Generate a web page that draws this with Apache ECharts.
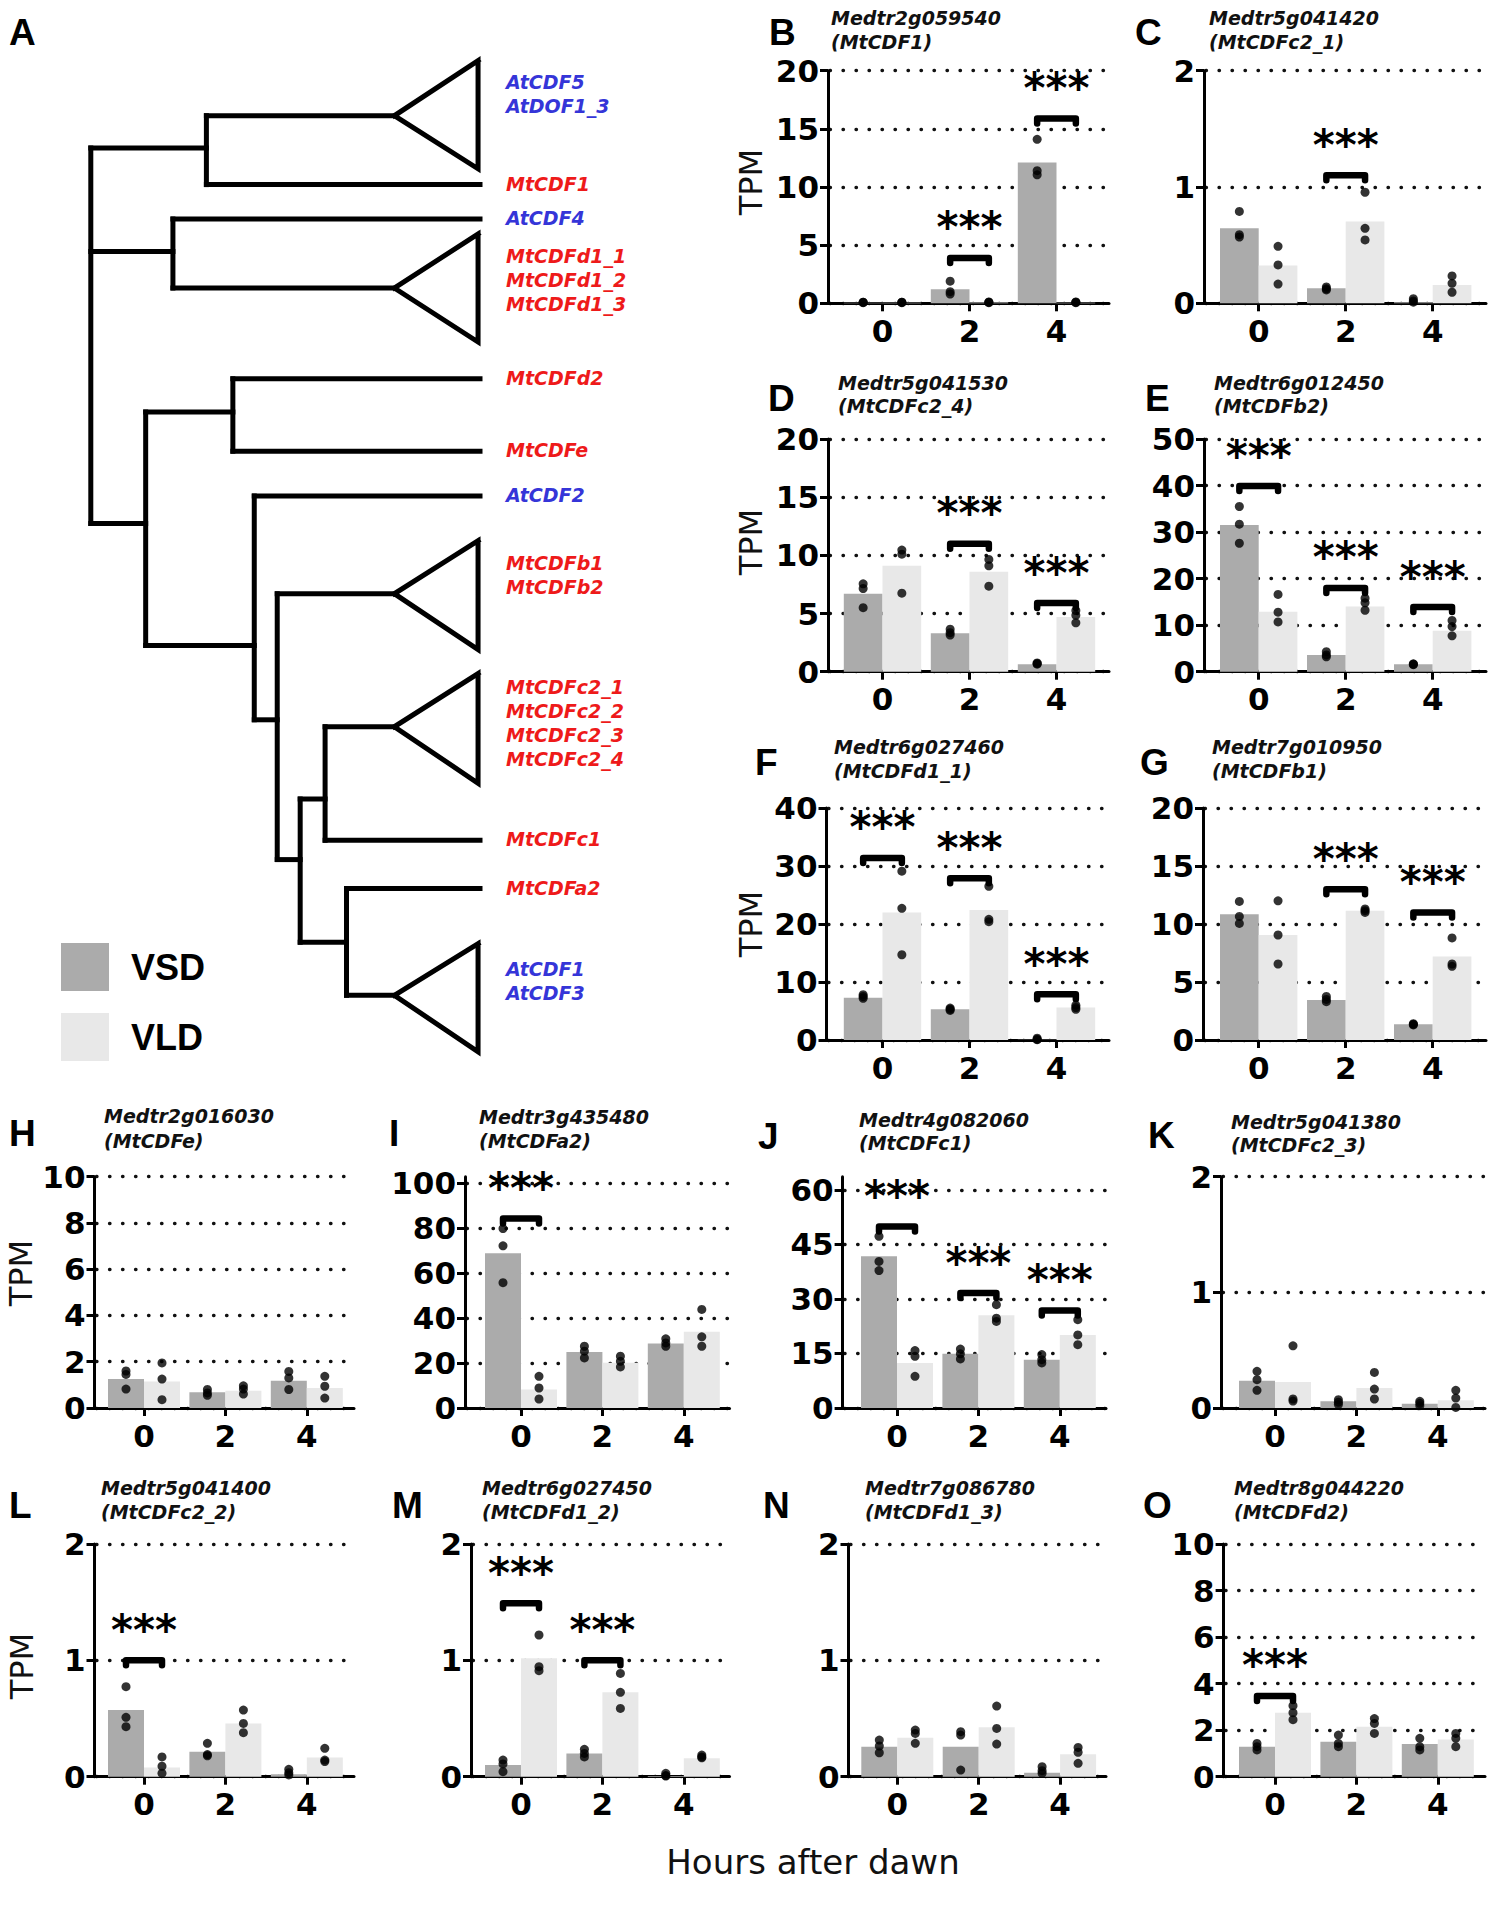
<!DOCTYPE html>
<html><head><meta charset="utf-8">
<script src="https://cdn.jsdelivr.net/npm/echarts@6/dist/echarts.min.js"></script>
<style>html,body{margin:0;padding:0;background:#fff}#c{width:1506px;height:1915px}</style>
</head><body><div id="c"></div>
<script>
// ---------------- DATA ----------------
const hours = [0, 2, 4];
const seriesNames = ['VSD', 'VLD'];

// B  Medtr2g059540 (MtCDF1)
const B_TICKS = [0, 5, 10, 15, 20];
const B_VSD = [0.04, 1.2, 12.1];
const B_VLD = [0.05, 0.06, 0.05];
const B_VSD_PTS = [[0.1, 0.08, 0.05], [1.9, 1.0, 0.8], [14.1, 11.4, 11.05]];
const B_VLD_PTS = [[0.1, 0.08, 0.05], [0.12, 0.08, 0.05], [0.12, 0.08, 0.05]];
const B_SIG = [[2, 3.9], [4, 15.9]];
// C  Medtr5g041420 (MtCDFc2_1)
const C_TICKS = [0, 1, 2];
const C_VSD = [0.646, 0.13, 0.01];
const C_VLD = [0.324, 0.703, 0.158];
const C_VSD_PTS = [[0.79, 0.59, 0.57], [0.14, 0.125, 0.115], [0.04, 0.02, 0.01]];
const C_VLD_PTS = [[0.49, 0.33, 0.165], [0.955, 0.645, 0.545], [0.235, 0.172, 0.095]];
const C_SIG = [[2, 1.1]];
// D  Medtr5g041530 (MtCDFc2_4)
const D_TICKS = [0, 5, 10, 15, 20];
const D_VSD = [6.7, 3.3, 0.63];
const D_VLD = [9.1, 8.6, 4.7];
const D_VSD_PTS = [[7.55, 7.15, 5.5], [3.65, 3.35, 3.15], [0.75, 0.7, 0.65]];
const D_VLD_PTS = [[10.45, 10.1, 6.75], [9.65, 9.1, 7.35], [5.25, 4.85, 4.2]];
const D_SIG = [[2, 11.0], [4, 5.9]];
// E  Medtr6g012450 (MtCDFb2)
const E_TICKS = [0, 10, 20, 30, 40, 50];
const E_VSD = [31.5, 3.6, 1.6];
const E_VLD = [12.9, 14.0, 8.8];
const E_VSD_PTS = [[35.5, 31.7, 27.6], [4.3, 3.6, 3.2], [1.7, 1.6, 1.5]];
const E_VLD_PTS = [[16.6, 12.8, 10.7], [15.8, 14.8, 13.2], [11.0, 9.7, 7.7]];
const E_SIG = [[0, 39.9], [2, 18.0], [4, 13.9]];
// F  Medtr6g027460 (MtCDFd1_1)
const F_TICKS = [0, 10, 20, 30, 40];
const F_VSD = [7.3, 5.3, 0.05];
const F_VLD = [22.0, 22.4, 5.6];
const F_VSD_PTS = [[7.8, 7.5, 7.2], [5.5, 5.3, 5.1], [0.3, 0.1, 0.05]];
const F_VLD_PTS = [[29.1, 22.7, 14.7], [26.5, 20.8, 20.4], [6.0, 5.6, 5.3]];
const F_SIG = [[0, 31.4], [2, 27.9], [4, 7.9]];
// G  Medtr7g010950 (MtCDFb1)
const G_TICKS = [0, 5, 10, 15, 20];
const G_VSD = [10.85, 3.45, 1.35];
const G_VLD = [9.05, 11.15, 7.2];
const G_VSD_PTS = [[11.95, 10.65, 10.05], [3.75, 3.5, 3.3], [1.4, 1.35, 1.3]];
const G_VLD_PTS = [[12.0, 9.05, 6.55], [11.3, 11.15, 11.0], [8.8, 6.55, 6.35]];
const G_SIG = [[2, 13.0], [4, 11.0]];
// H  Medtr2g016030 (MtCDFe)
const H_TICKS = [0, 2, 4, 6, 8, 10];
const H_VSD = [1.25, 0.68, 1.18];
const H_VLD = [1.15, 0.75, 0.86];
const H_VSD_PTS = [[1.6, 1.45, 0.82], [0.8, 0.65, 0.55], [1.58, 1.3, 0.8]];
const H_VLD_PTS = [[1.95, 1.25, 0.36], [0.96, 0.82, 0.6], [1.37, 0.94, 0.43]];
const H_SIG = [];
// I  Medtr3g435480 (MtCDFa2)
const I_TICKS = [0, 20, 40, 60, 80, 100];
const I_VSD = [68.9, 24.9, 28.7];
const I_VLD = [8.2, 20.1, 33.9];
const I_VSD_PTS = [[79.9, 72.2, 55.8], [27.5, 25.3, 22.3], [30.8, 29.0, 27.5]];
const I_VLD_PTS = [[14.1, 8.9, 4.0], [23.1, 20.8, 18.3], [43.9, 31.7, 27.5]];
const I_SIG = [[0, 84.4]];
// J  Medtr4g082060 (MtCDFc1)
const J_TICKS = [0, 15, 30, 45, 60];
const J_VSD = [41.7, 14.9, 13.3];
const J_VLD = [12.4, 25.5, 20.1];
const J_VSD_PTS = [[47.2, 40.3, 37.8], [16.2, 14.9, 13.5], [14.7, 13.3, 12.4]];
const J_VLD_PTS = [[15.8, 14.2, 8.7], [28.4, 24.7, 23.8], [24.3, 20.1, 17.4]];
const J_SIG = [[0, 49.9], [2, 31.6], [4, 26.8]];
// K  Medtr5g041380 (MtCDFc2_3)
const K_TICKS = [0, 1, 2];
const K_VSD = [0.236, 0.058, 0.037];
const K_VLD = [0.224, 0.173, 0.066];
const K_VSD_PTS = [[0.317, 0.245, 0.153], [0.072, 0.05, 0.03], [0.058, 0.04, 0.02]];
const K_VLD_PTS = [[0.538, 0.078, 0.06], [0.308, 0.164, 0.078], [0.153, 0.086, 0.005]];
const K_SIG = [];
// L  Medtr5g041400 (MtCDFc2_2)
const L_TICKS = [0, 1, 2];
const L_VSD = [0.573, 0.215, 0.02];
const L_VLD = [0.08, 0.458, 0.166];
const L_VSD_PTS = [[0.774, 0.51, 0.43], [0.287, 0.19, 0.18], [0.063, 0.035, 0.015]];
const L_VLD_PTS = [[0.17, 0.09, 0.03], [0.573, 0.458, 0.378], [0.244, 0.143, 0.13]];
const L_SIG = [[0, 1.0]];
// M  Medtr6g027450 (MtCDFd1_2)
const M_TICKS = [0, 1, 2];
const M_VSD = [0.1, 0.2, 0.005];
const M_VLD = [1.017, 0.725, 0.158];
const M_VSD_PTS = [[0.143, 0.11, 0.043], [0.235, 0.2, 0.17], [0.029, 0.01, 0.005]];
const M_VLD_PTS = [[1.218, 0.946, 0.911], [0.888, 0.725, 0.587], [0.186, 0.17, 0.163]];
const M_SIG = [[0, 1.49], [2, 1.0]];
// N  Medtr7g086780 (MtCDFd1_3)
const N_TICKS = [0, 1, 2];
const N_VSD = [0.258, 0.258, 0.034];
const N_VLD = [0.335, 0.424, 0.192];
const N_VSD_PTS = [[0.315, 0.264, 0.206], [0.387, 0.358, 0.057], [0.086, 0.052, 0.029]];
const N_VLD_PTS = [[0.401, 0.372, 0.287], [0.607, 0.415, 0.28], [0.252, 0.21, 0.115]];
const N_SIG = [];
// O  Medtr8g044220 (MtCDFd2)
const O_TICKS = [0, 2, 4, 6, 8, 10];
const O_VSD = [1.29, 1.5, 1.4];
const O_VLD = [2.75, 2.15, 1.6];
const O_VSD_PTS = [[1.43, 1.29, 1.15], [1.79, 1.43, 1.29], [1.65, 1.29, 1.15]];
const O_VLD_PTS = [[3.05, 2.75, 2.45], [2.5, 2.29, 1.86], [1.86, 1.65, 1.29]];
const O_SIG = [[0, 3.47]];

// Panel A: cladogram (branch depth 0..1 from root to tips; y in tree layout units)
const apexDepth = 0.78, cladeBaseDepth = 0.995, tipDepth = 1.0;
const tree = {d: 0, children: [
  {d: 0.297, y: 148, children: [
    {clade: ['AtCDF5', 'AtDOF1_3'], y: 115.7, top: 60.6, bottom: 168.8, labelY: 81.5},
    {leaf: 'MtCDF1', y: 184.6}]},
  {d: 0.211, y: 251.4, children: [
    {leaf: 'AtCDF4', y: 219},
    {clade: ['MtCDFd1_1', 'MtCDFd1_2', 'MtCDFd1_3'], y: 288, top: 234, bottom: 342, labelY: 255.5}]},
  {d: 0.141, y: 523.5, children: [
    {d: 0.365, y: 411.9, children: [{leaf: 'MtCDFd2', y: 378.8}, {leaf: 'MtCDFe', y: 451.2}]},
    {d: 0.420, y: 645.4, children: [
      {leaf: 'AtCDF2', y: 495.9},
      {d: 0.479, y: 719.8, children: [
        {clade: ['MtCDFb1', 'MtCDFb2'], y: 593.7, top: 540.7, bottom: 649.5, labelY: 562.7},
        {d: 0.538, y: 859.6, children: [
          {d: 0.602, y: 799, children: [
            {clade: ['MtCDFc2_1', 'MtCDFc2_2', 'MtCDFc2_3', 'MtCDFc2_4'], y: 726.7, top: 673.6, bottom: 783.2, labelY: 687},
            {leaf: 'MtCDFc1', y: 840.3}]},
          {d: 0.657, y: 942.3, children: [
            {leaf: 'MtCDFa2', y: 888.6},
            {clade: ['AtCDF1', 'AtCDF3'], y: 995.3, top: 943.7, bottom: 1051.8, labelY: 968.5}]}
        ]}
      ]}
    ]}
  ]}
]};

// ---------------- BUILD ----------------
const panels = [
  {id: 'B', gene: 'Medtr2g059540', name: 'MtCDF1', ticks: B_TICKS, vsd: B_VSD, vld: B_VLD, vsdPts: B_VSD_PTS, vldPts: B_VLD_PTS, sig: B_SIG},
  {id: 'C', gene: 'Medtr5g041420', name: 'MtCDFc2_1', ticks: C_TICKS, vsd: C_VSD, vld: C_VLD, vsdPts: C_VSD_PTS, vldPts: C_VLD_PTS, sig: C_SIG},
  {id: 'D', gene: 'Medtr5g041530', name: 'MtCDFc2_4', ticks: D_TICKS, vsd: D_VSD, vld: D_VLD, vsdPts: D_VSD_PTS, vldPts: D_VLD_PTS, sig: D_SIG},
  {id: 'E', gene: 'Medtr6g012450', name: 'MtCDFb2', ticks: E_TICKS, vsd: E_VSD, vld: E_VLD, vsdPts: E_VSD_PTS, vldPts: E_VLD_PTS, sig: E_SIG},
  {id: 'F', gene: 'Medtr6g027460', name: 'MtCDFd1_1', ticks: F_TICKS, vsd: F_VSD, vld: F_VLD, vsdPts: F_VSD_PTS, vldPts: F_VLD_PTS, sig: F_SIG},
  {id: 'G', gene: 'Medtr7g010950', name: 'MtCDFb1', ticks: G_TICKS, vsd: G_VSD, vld: G_VLD, vsdPts: G_VSD_PTS, vldPts: G_VLD_PTS, sig: G_SIG},
  {id: 'H', gene: 'Medtr2g016030', name: 'MtCDFe', ticks: H_TICKS, vsd: H_VSD, vld: H_VLD, vsdPts: H_VSD_PTS, vldPts: H_VLD_PTS, sig: H_SIG},
  {id: 'I', gene: 'Medtr3g435480', name: 'MtCDFa2', ticks: I_TICKS, vsd: I_VSD, vld: I_VLD, vsdPts: I_VSD_PTS, vldPts: I_VLD_PTS, sig: I_SIG, axisMax: 103},
  {id: 'J', gene: 'Medtr4g082060', name: 'MtCDFc1', ticks: J_TICKS, vsd: J_VSD, vld: J_VLD, vsdPts: J_VSD_PTS, vldPts: J_VLD_PTS, sig: J_SIG, axisMax: 63.6},
  {id: 'K', gene: 'Medtr5g041380', name: 'MtCDFc2_3', ticks: K_TICKS, vsd: K_VSD, vld: K_VLD, vsdPts: K_VSD_PTS, vldPts: K_VLD_PTS, sig: K_SIG},
  {id: 'L', gene: 'Medtr5g041400', name: 'MtCDFc2_2', ticks: L_TICKS, vsd: L_VSD, vld: L_VLD, vsdPts: L_VSD_PTS, vldPts: L_VLD_PTS, sig: L_SIG},
  {id: 'M', gene: 'Medtr6g027450', name: 'MtCDFd1_2', ticks: M_TICKS, vsd: M_VSD, vld: M_VLD, vsdPts: M_VSD_PTS, vldPts: M_VLD_PTS, sig: M_SIG},
  {id: 'N', gene: 'Medtr7g086780', name: 'MtCDFd1_3', ticks: N_TICKS, vsd: N_VSD, vld: N_VLD, vsdPts: N_VSD_PTS, vldPts: N_VLD_PTS, sig: N_SIG},
  {id: 'O', gene: 'Medtr8g044220', name: 'MtCDFd2', ticks: O_TICKS, vsd: O_VSD, vld: O_VLD, vsdPts: O_VSD_PTS, vldPts: O_VLD_PTS, sig: O_SIG}
];

// layout (pixels): axis x, plot top, baseline, right end, x of hour 0, px per hour, bar width
const TOPW = {unit: 43.5, bw: 38.7}, BOTW = {unit: 40.7, bw: 36};
const layout = {
  B: {ax: 828, top: 70.7, base: 303.3, right: 1109, t0: 882.5, ...TOPW, lx: 769, ly: 32.5, tx: 831, t1: 18, t2: 42},
  C: {ax: 1204, top: 70.7, base: 303.3, right: 1486, t0: 1258.7, ...TOPW, lx: 1135, ly: 32.5, tx: 1209, t1: 18, t2: 42},
  D: {ax: 828, top: 439, base: 671.7, right: 1109, t0: 882.5, ...TOPW, lx: 768, ly: 398, tx: 838, t1: 383, t2: 406},
  E: {ax: 1204, top: 439, base: 671.7, right: 1486, t0: 1258.7, ...TOPW, lx: 1145, ly: 398, tx: 1214, t1: 383, t2: 406},
  F: {ax: 826.5, top: 808, base: 1040, right: 1109, t0: 882.5, ...TOPW, lx: 755, ly: 762, tx: 834, t1: 747, t2: 771},
  G: {ax: 1203, top: 808, base: 1040, right: 1486, t0: 1258.7, ...TOPW, lx: 1140, ly: 762, tx: 1212, t1: 747, t2: 771},
  H: {ax: 94.5, top: 1176.7, base: 1408, right: 354, t0: 144, ...BOTW, lx: 9, ly: 1133, tx: 104, t1: 1116, t2: 1141},
  I: {ax: 465, top: 1176.7, base: 1408, right: 729.5, t0: 521, ...BOTW, lx: 389, ly: 1133, tx: 479, t1: 1117, t2: 1141},
  J: {ax: 842.6, top: 1176.7, base: 1408, right: 1106, t0: 897, ...BOTW, lx: 758, ly: 1136, tx: 859, t1: 1120, t2: 1143},
  K: {ax: 1221, top: 1176.7, base: 1408, right: 1485, t0: 1275, ...BOTW, lx: 1148, ly: 1135, tx: 1231, t1: 1122, t2: 1145},
  L: {ax: 94.5, top: 1544, base: 1776.7, right: 354, t0: 144, ...BOTW, lx: 9, ly: 1505, tx: 101, t1: 1488, t2: 1512},
  M: {ax: 471, top: 1544, base: 1776.7, right: 729.5, t0: 521, ...BOTW, lx: 392, ly: 1505, tx: 482, t1: 1488, t2: 1512},
  N: {ax: 848.5, top: 1544, base: 1776.7, right: 1106, t0: 897.3, ...BOTW, lx: 763, ly: 1505, tx: 865, t1: 1488, t2: 1512},
  O: {ax: 1223.6, top: 1544, base: 1776.7, right: 1485, t0: 1275, ...BOTW, lx: 1143, ly: 1505, tx: 1234, t1: 1488, t2: 1512}
};
const tpmLabels = [[751, 182], [751, 542], [751, 924], [20.5, 1273], [22, 1666]];

const COL_VSD = '#ababab', COL_VLD = '#e8e8e8';
const grids = [], xAxes = [], yAxes = [], series = [], graphics = [];

// --- tree (grid 0) ---
grids.push({left: 90.8, top: 0, width: 389.2, height: 1080});
xAxes.push({gridIndex: 0, type: 'value', min: 0, max: 1, show: false});
yAxes.push({gridIndex: 0, type: 'value', min: 0, max: 1080, inverse: true, show: false});
const segs = [], treeLabels = [];
function walk(node, parentD) {
  if (node.leaf) {
    segs.push([[parentD, node.y], [tipDepth, node.y]]);
    treeLabels.push({name: node.leaf, y: node.y - 1});
    return;
  }
  if (node.clade) {
    segs.push([[parentD, node.y], [apexDepth, node.y]]);
    segs.push([[apexDepth, node.y], [cladeBaseDepth, node.top], [cladeBaseDepth, node.bottom], [apexDepth, node.y], [cladeBaseDepth, node.top]]);
    node.clade.forEach((n, i) => treeLabels.push({name: n, y: node.labelY + 24 * i}));
    return;
  }
  if (parentD !== null) segs.push([[parentD, node.y], [node.d, node.y]]);
  const ys = node.children.map(c => c.y);
  segs.push([[node.d, Math.min(...ys)], [node.d, Math.max(...ys)]]);
  node.children.forEach(c => walk(c, node.d));
}
walk(tree, null);
series.push({
  type: 'lines', coordinateSystem: 'cartesian2d', xAxisIndex: 0, yAxisIndex: 0, polyline: true, silent: true,
  data: segs.map(c => ({coords: c})),
  lineStyle: {color: '#000', width: 5, opacity: 1, cap: 'square', join: 'miter'}
});
series.push({
  type: 'custom', xAxisIndex: 0, yAxisIndex: 0, silent: true,
  data: treeLabels.map(l => [tipDepth, l.y]),
  renderItem: (params, api) => {
    const p = api.coord([api.value(0), api.value(1)]);
    const nm = treeLabels[params.dataIndex].name;
    return {type: 'text', x: p[0] + 26, y: p[1], style: {
      text: nm, fill: nm.startsWith('At') ? '#3535d8' : '#ee1a1a',
      font: 'italic bold 19px "DejaVu Sans"', align: 'left', verticalAlign: 'middle'}};
  }
});

// --- bar panels ---
function sigRender(bw) {
  return (params, api) => {
    const p = api.coord([api.value(0), api.value(1)]);
    const h = bw / 2;
    return {type: 'group', children: [
      {type: 'polyline', shape: {points: [[p[0] - h, p[1] + 5], [p[0] - h, p[1]], [p[0] + h, p[1]], [p[0] + h, p[1] + 5]]},
        style: {stroke: '#000', lineWidth: 6.5, fill: null, lineCap: 'round', lineJoin: 'round'}},
      {type: 'text', x: p[0], y: p[1] - 30, style: {text: '***', fill: '#000', font: 'bold 42px "DejaVu Sans"', align: 'center', verticalAlign: 'middle'}}
    ]};
  };
}
const tickFont = {fontFamily: 'DejaVu Sans', fontWeight: 'bold', fontSize: 31, color: '#000'};
panels.forEach((p, i) => {
  const g = i + 1, L = layout[p.id];
  const yMax = p.axisMax || p.ticks[p.ticks.length - 1];
  const step = p.ticks[1] - p.ticks[0];
  grids.push({left: L.ax, top: L.top, width: L.right - L.ax, height: L.base - L.top});
  xAxes.push({
    gridIndex: g, type: 'value', min: (L.ax - L.t0) / L.unit, max: (L.right - L.t0) / L.unit,
    axisLine: {show: true, onZero: false, lineStyle: {color: '#000', width: 3}},
    axisTick: {show: true, length: 8, lineStyle: {color: '#000', width: 3}, customValues: hours},
    axisLabel: {show: true, customValues: hours, margin: 12, ...tickFont},
    splitLine: {show: false}
  });
  yAxes.push({
    gridIndex: g, type: 'value', min: 0, max: yMax, interval: step,
    axisLine: {show: true, onZero: false, lineStyle: {color: '#000', width: 3}},
    axisTick: {show: true, length: 8, lineStyle: {color: '#000', width: 3}, customValues: p.ticks},
    axisLabel: {show: true, customValues: p.ticks, margin: 9, ...tickFont},
    splitLine: {show: true, lineStyle: {color: '#111', width: 3.3, type: [0.5, 12.5], dashOffset: 11, cap: 'round'}}
  });
  series.push({type: 'bar', name: 'VSD', xAxisIndex: g, yAxisIndex: g, barWidth: L.bw, barGap: '0%', silent: true,
    itemStyle: {color: COL_VSD}, data: hours.map((h, k) => [h, p.vsd[k]])});
  series.push({type: 'bar', name: 'VLD', xAxisIndex: g, yAxisIndex: g, barWidth: L.bw, barGap: '0%', silent: true,
    itemStyle: {color: COL_VLD}, data: hours.map((h, k) => [h, p.vld[k]])});
  series.push({type: 'scatter', name: 'VSD replicates', xAxisIndex: g, yAxisIndex: g, symbolSize: 9, symbolOffset: [-L.bw / 2, 0], silent: true, z: 5,
    itemStyle: {color: '#000'}, data: hours.flatMap((h, k) => p.vsdPts[k].map(v => [h, v]))});
  series.push({type: 'scatter', name: 'VLD replicates', xAxisIndex: g, yAxisIndex: g, symbolSize: 9, symbolOffset: [L.bw / 2, 0], silent: true, z: 5,
    itemStyle: {color: '#000'}, data: hours.flatMap((h, k) => p.vldPts[k].map(v => [h, v]))});
  if (p.sig.length) series.push({type: 'custom', xAxisIndex: g, yAxisIndex: g, silent: true, z: 6, clip: false,
    data: p.sig, renderItem: sigRender(L.bw)});
  graphics.push({type: 'text', x: L.lx, y: L.ly, style: {text: p.id, font: 'bold 37px "Liberation Sans"', fill: '#000', align: 'left', verticalAlign: 'middle'}});
  graphics.push({type: 'text', x: L.tx, y: L.t1, style: {text: p.gene, font: 'italic bold 19px "DejaVu Sans"', fill: '#111', align: 'left', verticalAlign: 'middle'}});
  graphics.push({type: 'text', x: L.tx, y: L.t2, style: {text: '(' + p.name + ')', font: 'italic bold 19px "DejaVu Sans"', fill: '#111', align: 'left', verticalAlign: 'middle'}});
});
tpmLabels.forEach(([x, y]) => graphics.push({type: 'text', x: x, y: y, rotation: Math.PI / 2,
  style: {text: 'TPM', font: '32px "DejaVu Sans"', fill: '#111', align: 'center', verticalAlign: 'middle'}}));
graphics.push({type: 'text', x: 9, y: 32.5, style: {text: 'A', font: 'bold 37px "Liberation Sans"', fill: '#000', align: 'left', verticalAlign: 'middle'}});
graphics.push({type: 'text', x: 813, y: 1862, style: {text: 'Hours after dawn', font: '34px "DejaVu Sans"', fill: '#111', align: 'center', verticalAlign: 'middle'}});

const chart = echarts.init(document.getElementById('c'), null, {renderer: 'svg'});
chart.setOption({
  backgroundColor: '#fff',
  animation: false,
  grid: grids, xAxis: xAxes, yAxis: yAxes, series: series,
  legend: {data: seriesNames, orient: 'vertical', left: 61, top: 943, padding: 0, itemWidth: 48, itemHeight: 48, itemGap: 22, icon: 'rect',
    selectedMode: false,
    textStyle: {fontFamily: 'Liberation Sans', fontWeight: 'bold', fontSize: 36, color: '#000', padding: [7, 0, 0, 17]}},
  graphic: graphics
});
</script></body></html>
